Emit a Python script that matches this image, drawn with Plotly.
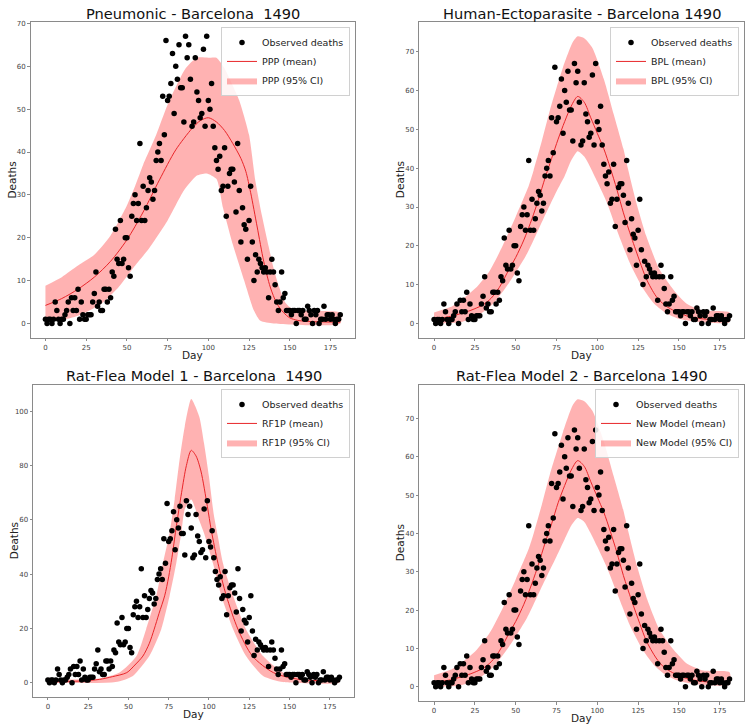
import plotly.graph_objects as go

W, H = 753, 725

# ---------------- data ----------------
DAYS = list(range(182))
OBSERVED = [1, 0, 1, 1, 0, 1, 5, 3, 1, 0,
            1, 1, 2, 3, 5, 0, 6, 3, 6, 3,
            8, 1, 5, 2, 1, 1, 2, 2, 2, 5,
            7, 12, 4, 5, 3, 3, 8, 8, 5, 8,
            6, 12, 11, 22, 15, 14, 24, 14, 15, 20,
            20, 13, 11, 25, 28, 30, 24, 28, 42, 24,
            32, 24, 27, 31, 34, 33, 29, 31, 38, 40,
            42, 38, 53, 44, 66, 52, 53, 56, 63, 49,
            60, 57, 65, 55, 55, 47, 67, 62, 65, 57,
            46, 47, 62, 54, 52, 48, 49, 64, 46, 67,
            52, 50, 56, 46, 41, 38, 36, 39, 31, 32,
            41, 25, 32, 35, 36, 36, 33, 26, 42, 31,
            19, 27, 23, 22, 15, 24, 32, 19, 10, 16,
            12, 15, 14, 13, 12, 13, 12, 6, 12, 15,
            12, 9, 5, 3, 5, 12, 6, 7, 3, 3,
            3, 2, 3, 3, 0, 3, 3, 2, 3, 1,
            1, 4, 3, 2, 0, 3, 2, 3, 0, 1,
            1, 4, 1, 2, 2, 1, 2, 1, 0, 1,
            1, 2]

# Pneumonic (PPP)
PPP_MEAN_DAY = [0, 10, 20, 30, 40, 50, 60, 70, 80, 90, 95, 100, 105, 110, 115, 120, 123, 126,
                130, 134, 138, 142, 146, 150, 155, 165, 181]
PPP_MEAN = [4.2, 5.8, 8, 10.8, 14.5, 19.5, 26, 33.5, 40.5, 45.5, 47.3, 48, 47, 45, 42, 38.5, 35.5,
            30.5, 22.5, 14.5, 8.5, 4.7, 2.6, 1.3, 0.7, 0.4, 0.3]
PPP_UP_DAY = [0, 10, 20, 30, 40, 50, 55, 60, 68, 75, 86, 93, 100, 105, 110, 115, 119, 125, 129,
              133, 137, 140, 143, 147, 150, 155, 181]
PPP_UP = [8.8, 10.8, 13.5, 16, 20.5, 27.5, 32, 37, 44, 51, 59.5, 62, 62, 62, 59.5, 55.5, 52, 44,
          33, 25, 18, 13, 9, 5, 3.8, 3, 2.5]
PPP_LO_DAY = [0, 10, 20, 34, 45, 54, 64, 75, 85, 93, 99, 105, 109, 115, 122, 128, 132, 140, 181]
PPP_LO = [0.3, 0.8, 1.8, 4.5, 8.5, 13, 17.7, 24, 31, 34.5, 35, 33.7, 27, 18.5, 10, 3, 0.6, 0, 0]

# Human-Ectoparasite (BPL)
BPL_MEAN_DAY = [0, 10, 20, 25, 30, 35, 40, 46, 50, 55, 60, 64, 68, 72, 76, 80, 84, 88, 92, 96,
                100, 104, 108, 112, 116, 121, 126, 130, 136, 141, 146, 151, 156, 166, 181]
BPL_MEAN = [1.1, 1.8, 3, 3.8, 4.8, 6.5, 9.3, 14, 17, 21.5, 27, 32, 37.5, 42.5, 47.5, 52, 56, 58.5,
            57, 53, 49, 45, 40, 34.5, 28.5, 22, 16, 11.5, 7, 4.8, 3.5, 2.5, 1.8, 1.1, 0.8]
BPL_UP_DAY = [0, 10, 16, 26, 34, 42, 50, 58, 61, 66, 71, 79, 85, 88, 92, 97, 104, 110, 116, 119,
              124, 130, 138, 147, 155, 165, 181]
BPL_UP = [2.8, 4.2, 5.8, 9.3, 13.5, 20, 27.5, 35.5, 39.5, 47, 55, 66, 72.5, 74, 73.5, 71, 63, 54,
          45, 39.5, 31, 22.5, 14, 8.5, 5, 3.3, 2.8]
BPL_LO_DAY = [0, 16, 26, 36, 46, 57, 67, 75, 80, 84, 88, 92, 96, 100, 106, 112, 120, 128, 135,
              142, 150, 160, 181]
BPL_LO = [0, 0.3, 1.8, 5, 10.5, 18, 27, 34, 38, 42, 44.4, 43, 40, 36.5, 31, 24, 15.5, 9, 5, 2.7,
          1.2, 0.5, 0.3]

# Rat-Flea Model 1 (RF1P)
RF1_MEAN_DAY = [0, 20, 32, 40, 49, 54, 59, 63, 66, 69, 72.5, 75, 77, 79.5, 83, 86, 89, 92, 95, 99,
                101.5, 105.6, 110.8, 118, 127, 140, 156, 181]
RF1_MEAN = [0.3, 0.6, 1.2, 2.2, 3.7, 6.5, 9.8, 14.5, 19.7, 25.5, 32, 39, 46, 56.6, 70, 80, 85.6,
            83.5, 78, 65, 56, 44, 32, 19.7, 9.8, 3.7, 1.2, 0.6]
RF1_UP_DAY = [0, 11, 32, 44.5, 55, 61, 67.3, 71.4, 75.5, 78.7, 81.8, 85, 89, 94, 97, 100, 103,
              105.5, 108.7, 115, 123, 133.6, 146, 160.5, 181]
RF1_UP = [1.8, 1.2, 1.5, 3.7, 9.8, 19.7, 32, 44, 55, 67.5, 82.3, 94.5, 104.5, 98, 88, 76, 62, 54,
          44, 32, 19.7, 9.8, 3.7, 1.2, 1]
RF1_LO_DAY = [0, 42, 52.8, 63, 70.4, 75.6, 79.7, 82.8, 85, 89, 93.8, 97, 102.5, 107.7, 115, 123,
              133.6, 146, 181]
RF1_LO = [0, 0.2, 2.5, 9.8, 19.7, 32, 44, 55, 64, 67.5, 60, 55, 44, 32, 19.7, 9.8, 2.5, 0.2, 0]

# Rat-Flea Model 2 (New Model)
NM_MEAN_DAY = BPL_MEAN_DAY
NM_MEAN = [1.1, 1.8, 3, 3.8, 4.8, 6.5, 9.3, 14, 17, 21.5, 27, 32, 37.5, 42.5, 48, 52.5, 56.5, 59,
           57.5, 53.5, 49.5, 45.5, 40.5, 35, 29, 22.5, 16.5, 12, 7.5, 5, 3.7, 2.7, 2, 1.3, 1]
NM_UP_DAY = BPL_UP_DAY
NM_UP = [3, 4.4, 6, 9.6, 14, 20.5, 28, 36, 40, 47.5, 55.5, 66.5, 73.5, 75, 74.5, 72, 64, 55, 46,
         40.5, 32, 23.5, 15, 9.5, 6, 4.2, 3.8]
NM_LO_DAY = BPL_LO_DAY
NM_LO = [0, 0.3, 1.8, 5, 10.5, 18, 27, 34, 38.5, 42, 44, 43, 40, 36.5, 31, 24.5, 16, 9.5, 5.5, 3,
         1.5, 0.7, 0.5]

X_TICKS = [0, 25, 50, 75, 100, 125, 150, 175]

PANELS = [
    dict(title="Pneumonic - Barcelona  1490", model="PPP",
         mean=(PPP_MEAN_DAY, PPP_MEAN), up=(PPP_UP_DAY, PPP_UP), lo=(PPP_LO_DAY, PPP_LO),
         yr=[-3.35, 70.35], dt=10,
         box=(30.7, 355, 20, 336.7), leg=(350, 25), daylab=354, title_y=12),
    dict(title="Human-Ectoparasite - Barcelona 1490", model="BPL",
         mean=(BPL_MEAN_DAY, BPL_MEAN), up=(BPL_UP_DAY, BPL_UP), lo=(BPL_LO_DAY, BPL_LO),
         yr=[-3.7, 77.7], dt=10,
         box=(419.3, 744.3, 20, 336.7), leg=(739, 25), daylab=354, title_y=12),
    dict(title="Rat-Flea Model 1 - Barcelona  1490", model="RF1P",
         mean=(RF1_MEAN_DAY, RF1_MEAN), up=(RF1_UP_DAY, RF1_UP), lo=(RF1_LO_DAY, RF1_LO),
         yr=[-5.2, 109.7], dt=20,
         box=(33.3, 354, 384, 696.7), leg=(350, 388), daylab=713.5, title_y=375),
    dict(title="Rat-Flea Model 2 - Barcelona 1490", model="New Model",
         mean=(NM_MEAN_DAY, NM_MEAN), up=(NM_UP_DAY, NM_UP), lo=(NM_LO_DAY, NM_LO),
         yr=[-3.75, 78.75], dt=10,
         box=(419.3, 744.3, 384, 701), leg=(739, 388), daylab=717.5, title_y=375),
]

FONT = "DejaVu Sans"
traces = []
annotations = []
layout_extra = {}

for i, p in enumerate(PANELS):
    n = "" if i == 0 else str(i + 1)
    xa, ya = "x" + n, "y" + n
    lg = "legend" + n
    x0, x1, y0, y1 = p["box"]
    bx = list(p["up"][0]) + list(p["lo"][0])[::-1]
    by = list(p["up"][1]) + list(p["lo"][1])[::-1]
    traces.append(go.Scatter(x=bx, y=by, mode="lines", fill="toself",
                             fillcolor="rgba(255,0,0,0.3)",
                             line=dict(width=0, shape="spline", smoothing=0.6),
                             name=f"{p['model']} (95% CI)", xaxis=xa, yaxis=ya, legend=lg,
                             legendrank=3))
    traces.append(go.Scatter(x=p["mean"][0], y=p["mean"][1], mode="lines",
                             line=dict(color="#e8262a", width=1, shape="spline", smoothing=0.8),
                             name=f"{p['model']} (mean)", xaxis=xa, yaxis=ya, legend=lg,
                             legendrank=2))
    traces.append(go.Scatter(x=DAYS, y=OBSERVED, mode="markers",
                             marker=dict(color="black", size=5.5),
                             name="Observed deaths", xaxis=xa, yaxis=ya, legend=lg,
                             legendrank=1))
    axis_common = dict(showline=True, mirror=True, linecolor="#8a8a8a", linewidth=1.3,
                       ticks="outside", tickcolor="#8a8a8a", ticklen=2.5, tickwidth=1,
                       showgrid=False, zeroline=False,
                       tickfont=dict(family=FONT, size=7, color="#444"))
    layout_extra["xaxis" + n] = dict(domain=[x0 / W, x1 / W], range=[-9.05, 190.05],
                                     tickvals=X_TICKS, anchor=ya, **axis_common)
    layout_extra["yaxis" + n] = dict(domain=[1 - y1 / H, 1 - y0 / H], range=p["yr"],
                                     dtick=p["dt"], tick0=0, anchor=xa, **axis_common)
    layout_extra[lg] = dict(x=p["leg"][0] / W, y=1 - p["leg"][1] / H, xanchor="right",
                            yanchor="top", bgcolor="rgba(255,255,255,0.85)",
                            bordercolor="#d0d0d0", borderwidth=1,
                            font=dict(family=FONT, size=9.5, color="#222"),
                            traceorder="normal", itemwidth=30)
    cx = (x0 + x1) / 2 / W
    annotations.append(dict(text=p["title"], x=cx, y=1 - p["title_y"] / H, xref="paper",
                            yref="paper", showarrow=False, xanchor="center", yanchor="middle",
                            font=dict(family=FONT, size=14.6, color="#111")))
    annotations.append(dict(text="Day", x=cx, y=1 - p["daylab"] / H, xref="paper",
                            yref="paper", showarrow=False, xanchor="center", yanchor="middle",
                            font=dict(family=FONT, size=10.5, color="#222")))
    annotations.append(dict(text="Deaths", x=(x0 - 19) / W, y=1 - (y0 + y1) / 2 / H,
                            xref="paper", yref="paper", showarrow=False, textangle=-90,
                            xanchor="center", yanchor="middle",
                            font=dict(family=FONT, size=10.5, color="#222")))

fig = go.Figure(data=traces)
fig.update_layout(width=W, height=H, margin=dict(l=0, r=0, t=0, b=0),
                  paper_bgcolor="white", plot_bgcolor="white", showlegend=True,
                  annotations=annotations, **layout_extra)
fig.write_html("out.html")
